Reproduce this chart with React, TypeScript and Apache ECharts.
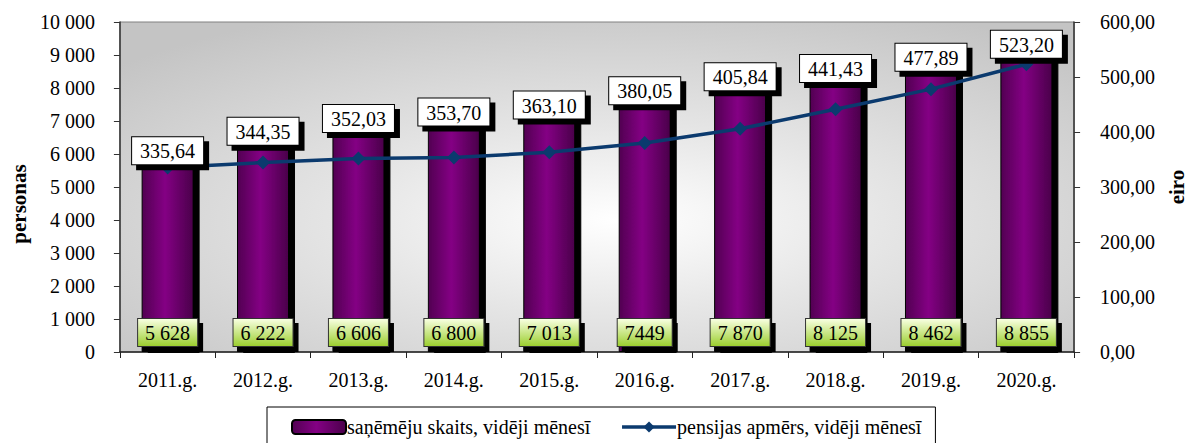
import React, { useEffect, useRef } from "react";
import * as echarts from "echarts";

const categories = ["2011.g.", "2012.g.", "2013.g.", "2014.g.", "2015.g.", "2016.g.", "2017.g.", "2018.g.", "2019.g.", "2020.g."];
const recipients = [5628, 6222, 6606, 6800, 7013, 7449, 7870, 8125, 8462, 8855];
const recipientLabels = ["5 628", "6 222", "6 606", "6 800", "7 013", "7449", "7 870", "8 125", "8 462", "8 855"];
const pension = [335.64, 344.35, 352.03, 353.7, 363.1, 380.05, 405.84, 441.43, 477.89, 523.2];
const leftTicks = { min: 0, max: 10000, interval: 1000 };
const rightTicks = { min: 0, max: 600, interval: 100 };
const seriesNames = ["saņēmēju skaits, vidēji mēnesī", "pensijas apmērs, vidēji mēnesī"];
const axisNames = ["personas", "eiro"];

const FONT = "Liberation Serif";

const fmtThousands = (v: number) => String(Math.round(v)).replace(/\B(?=(\d{3})+(?!\d))/g, " ");
const fmtEuro = (v: number) => v.toFixed(2).replace(".", ",");

export default function App() {
  const ref = useRef<HTMLDivElement>(null);
  useEffect(() => {
    document.body.style.margin = "0";
    if (!ref.current) return;
    const chart = echarts.init(ref.current, undefined, { renderer: "svg" });
    const barGradient = new echarts.graphic.LinearGradient(0, 0, 1, 0, [
      { offset: 0, color: "#520052" },
      { offset: 0.45, color: "#840084" },
      { offset: 1, color: "#4a004a" },
    ]);
    const greenGradient = new echarts.graphic.LinearGradient(0, 0, 0, 1, [
      { offset: 0, color: "#f8ffe0" },
      { offset: 1, color: "#9ccf30" },
    ]);
    const boxLabel = {
      fontFamily: FONT,
      fontSize: 20,
      color: "#000",
      borderWidth: 1,
      shadowColor: "#000",
      shadowBlur: 0,
      shadowOffsetX: 5,
      shadowOffsetY: 5,
    };
    chart.setOption({
      animation: false,
      textStyle: { fontFamily: FONT },
      grid: {
        left: 112,
        right: 102,
        top: 22,
        bottom: 91,
        show: true,
        borderColor: "#808080",
        borderWidth: 1,
        backgroundColor: new echarts.graphic.RadialGradient(0.52, 0.6, 0.7, [
          { offset: 0, color: "#ffffff" },
          { offset: 0.4, color: "#e6e6e6" },
          { offset: 1, color: "#c4c4c4" },
        ]),
      },
      legend: {
        left: 267,
        top: 407,
        width: 673,
        padding: [10, 14, 24, 24],
        borderColor: "#000",
        borderWidth: 1,
        backgroundColor: "#fff",
        itemWidth: 54,
        itemHeight: 14,
        itemGap: 30,
        lineStyle: { width: 3.5 },
        textStyle: { fontFamily: FONT, fontSize: 20, color: "#000", padding: [0, 0, 0, -4] },
        data: seriesNames,
      },
      xAxis: {
        type: "category",
        data: categories,
        axisLine: { lineStyle: { color: "#222", width: 1.5 } },
        axisTick: { show: true, length: 6, lineStyle: { color: "#222" } },
        axisLabel: { fontFamily: FONT, fontSize: 20, color: "#000", margin: 18 },
      },
      yAxis: [
        {
          type: "value",
          min: leftTicks.min,
          max: leftTicks.max,
          interval: leftTicks.interval,
          name: axisNames[0],
          nameLocation: "middle",
          nameGap: 90,
          nameRotate: 90,
          nameTextStyle: { fontFamily: FONT, fontSize: 21, fontWeight: "bold", color: "#000", padding: [0, 34, 0, 0] },
          axisLine: { show: true, lineStyle: { color: "#333", width: 1.5 } },
          axisTick: { show: true, length: 6, lineStyle: { color: "#333" } },
          splitLine: { show: false },
          axisLabel: { fontFamily: FONT, fontSize: 20, color: "#000", margin: 25, formatter: fmtThousands },
        },
        {
          type: "value",
          min: rightTicks.min,
          max: rightTicks.max,
          interval: rightTicks.interval,
          position: "right",
          name: axisNames[1],
          nameLocation: "middle",
          nameGap: 88,
          nameRotate: 90,
          nameTextStyle: { fontFamily: FONT, fontSize: 21, fontWeight: "bold", color: "#000" },
          axisLine: { show: true, lineStyle: { color: "#333", width: 1.5 } },
          axisTick: { show: true, length: 6, lineStyle: { color: "#333" } },
          splitLine: { show: false },
          axisLabel: { fontFamily: FONT, fontSize: 20, color: "#000", margin: 26, formatter: fmtEuro },
        },
      ],
      series: [
        {
          name: seriesNames[0],
          type: "bar",
          yAxisIndex: 0,
          data: recipients,
          barWidth: 52,
          itemStyle: {
            color: barGradient,
            borderColor: "#000",
            borderWidth: 1,
            shadowColor: "#000",
            shadowBlur: 0,
            shadowOffsetX: 6,
            shadowOffsetY: 1,
          },
          label: {
            ...boxLabel,
            show: true,
            position: "insideBottom",
            distance: 6,
            formatter: (p: any) => recipientLabels[p.dataIndex],
            backgroundColor: greenGradient,
            borderColor: "#333",
            padding: [4, 7, 3, 7],
          },
          z: 2,
        },
        {
          name: seriesNames[1],
          type: "line",
          yAxisIndex: 1,
          data: pension,
          symbol: "diamond",
          symbolSize: 14,
          lineStyle: { color: "#0b3a6e", width: 3.5 },
          itemStyle: { color: "#0b3a6e" },
          z: 3,
        },
        {
          name: "pensijas apmērs (etiķetes)",
          type: "bar",
          yAxisIndex: 0,
          data: recipients,
          barWidth: 52,
          barGap: "-100%",
          silent: true,
          itemStyle: { color: "rgba(0,0,0,0)" },
          label: {
            ...boxLabel,
            show: true,
            position: "top",
            distance: 2,
            formatter: (p: any) => fmtEuro(pension[p.dataIndex]),
            backgroundColor: "#fff",
            borderColor: "#000",
            padding: [4, 8, 3, 8],
          },
          z: 4,
        },
      ],
    });
    return () => chart.dispose();
  }, []);
  return <div ref={ref} style={{ width: 1195, height: 443 }} />;
}
